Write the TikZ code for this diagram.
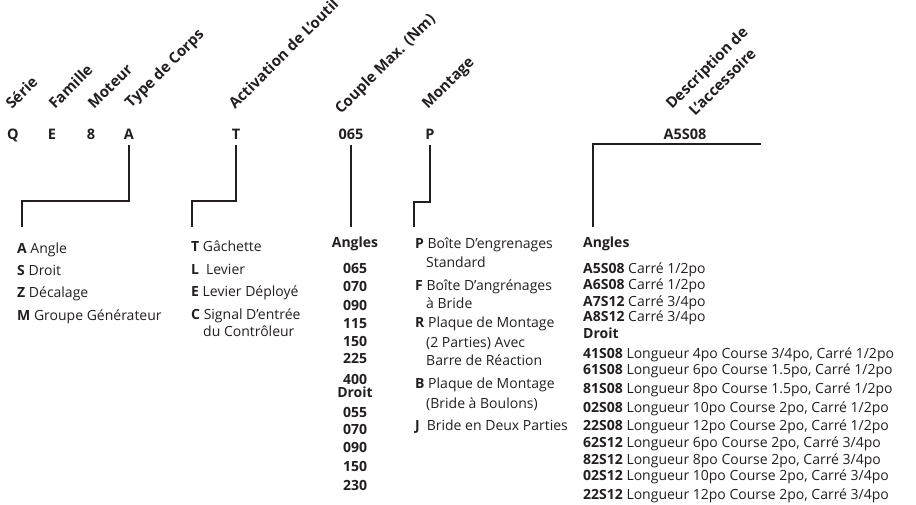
\documentclass[tikz,border=0pt]{standalone}
\usepackage{fontspec}
\setmainfont{Open Sans}
\usepackage{tikz}
\usetikzlibrary{positioning,calc}
\definecolor{inkblack}{RGB}{35,31,32}

\begin{document}
\begin{tikzpicture}[x=1pt, y=-1pt,
    every node/.style={inner sep=0pt, text=inkblack, font=\fontsize{14}{16}\selectfont},
    fieldlabel/.style={rotate=45, anchor=base west, font=\bfseries\fontsize{15}{17}\selectfont},
    codechar/.style={anchor=base, font=\bfseries\fontsize{14.5}{16}\selectfont},
    optrow/.style={anchor=base west},
    valrow/.style={anchor=base, font=\bfseries\fontsize{14}{16}\selectfont},
    conn/.style={draw=inkblack, line width=1.5pt}]
    \useasboundingbox (0,0) rectangle (916,504);

    % Field names
    \node[fieldlabel] (lSerie) at (12,110) {Série};
    \node[fieldlabel] (lFamille) at (55,110) {Famille};
    \node[fieldlabel] (lMoteur) at (94,110) {Moteur};
    \node[fieldlabel] (lCorps) at (131,109) {Type de Corps};
    \node[fieldlabel] (lActiv) at (235,110) {Activation de L'outil};
    \node[fieldlabel] (lCouple) at (341,115) {Couple Max. (Nm)};
    \node[fieldlabel] (lMontage) at (428,110) {Montage};
    \node[fieldlabel] (lDesc) at (672,110) {Description de};
    \node[fieldlabel] (lAcc) at (695,117) {L'accessoire};

    % Model code
    \node[codechar] (cQ) at (13,139) {Q};
    \node[codechar] (cE) at (52,139) {E};
    \node[codechar] (c8) at (91,139) {8};
    \node[codechar] (cA) at (129,139) {A};
    \node[codechar] (cT) at (236,139) {T};
    \node[codechar] (cCouple) at (351,139) {065};
    \node[codechar] (cP) at (430,139) {P};
    \node[codechar] (cAcc) at (685,139) {A5S08};

    % Leader lines
    \coordinate (kA) at (22,201);  \coordinate (eA) at (22,227);
    \coordinate (kT) at (192,201); \coordinate (eT) at (192,227);
    \coordinate (eCouple) at (351,227);
    \coordinate (kP) at (414,202); \coordinate (eP) at (414,227);
    \coordinate (accL) at (593,144); \coordinate (accR) at (761,144);
    \coordinate (eAcc) at (593,227);
    \draw[conn] ([yshift=-6pt]cA.base) |- (kA) -- (eA);
    \draw[conn] ([yshift=-6pt]cT.base) |- (kT) -- (eT);
    \draw[conn] ([yshift=-6pt]cCouple.base) -- (eCouple);
    \draw[conn] ([yshift=-6pt]cP.base) |- (kP) -- (eP);
    \draw[conn] (accR) -- (accL) -- (eAcc);

    % Type de Corps
    \foreach \y/\k/\txt in {253/A/Angle, 275/S/Droit, 297/Z/Décalage, 320/M/{Groupe Générateur}}
        \node[optrow] (corps\k) at (17,\y) {\textbf{\k} \txt};

    % Activation
    \node[optrow] (activT) at (191,251) {\textbf{T} Gâchette};
    \node[optrow] (activL) at (191,274) {\textbf{L}\enspace Levier};
    \node[optrow] (activE) at (191,296) {\textbf{E} Levier Déployé};
    \node[optrow] (activC) at (191,319) {\textbf{C} Signal D'entrée};
    \node[optrow] (activC2) at (203,336) {du Contrôleur};

    % Couple
    \foreach \y/\v [count=\i] in {247/Angles, 273/065, 291/070, 310/090, 328/115,
        346/150, 363/225, 384/400, 397/Droit, 417/055, 434/070, 452/090,
        471/150, 490/230}
        \node[valrow] (couple\i) at (355,\y) {\v};

    % Montage
    \node[optrow] (montP) at (415,248) {\textbf{P} Boîte D'engrenages};
    \node[optrow] (montP2) at (426,267) {Standard};
    \node[optrow] (montF) at (415,290) {\textbf{F} Boîte D'angrénages};
    \node[optrow] (montF2) at (426,308) {à Bride};
    \node[optrow] (montR) at (415,327) {\textbf{R} Plaque de Montage};
    \node[optrow] (montR2) at (426,347) {(2 Parties) Avec};
    \node[optrow] (montR3) at (426,365) {Barre de Réaction};
    \node[optrow] (montB) at (415,388) {\textbf{B} Plaque de Montage};
    \node[optrow] (montB2) at (426,408) {(Bride à Boulons)};
    \node[optrow] (montJ) at (415,430) {\textbf{J}\enspace Bride en Deux Parties};

    % Accessoires
    \node[optrow, font=\bfseries\fontsize{14}{16}\selectfont] (accAngles) at (583,247.5) {Angles};
    \foreach \y/\k/\txt in {273/A5S08/{Carré 1/2po}, 289/A6S08/{Carré 1/2po},
        306.5/A7S12/{Carré 3/4po}, 321.5/A8S12/{Carré 3/4po}}
        \node[optrow] (acc\k) at (583,\y) {\textbf{\k} \txt};
    \node[optrow, font=\bfseries\fontsize{14}{16}\selectfont] (accDroit) at (583,338) {Droit};
    \foreach \y/\k/\txt [count=\i] in {358/41S08/{Longueur 4po Course 3/4po, Carré 1/2po},
        374.5/61S08/{Longueur 6po Course 1.5po, Carré 1/2po},
        393/81S08/{Longueur 8po Course 1.5po, Carré 1/2po},
        412.5/02S08/{Longueur 10po Course 2po, Carré 1/2po},
        430.5/22S08/{Longueur 12po Course 2po, Carré 1/2po},
        447/62S12/{Longueur 6po Course 2po, Carré 3/4po},
        464/82S12/{Longueur 8po Course 2po, Carré 3/4po},
        480.5/02S12/{Longueur 10po Course 2po, Carré 3/4po},
        499/22S12/{Longueur 12po Course 2po, Carré 3/4po}}
        \node[optrow] (droit\i) at (583,\y) {\textbf{\k} \txt};
\end{tikzpicture}
\end{document}
